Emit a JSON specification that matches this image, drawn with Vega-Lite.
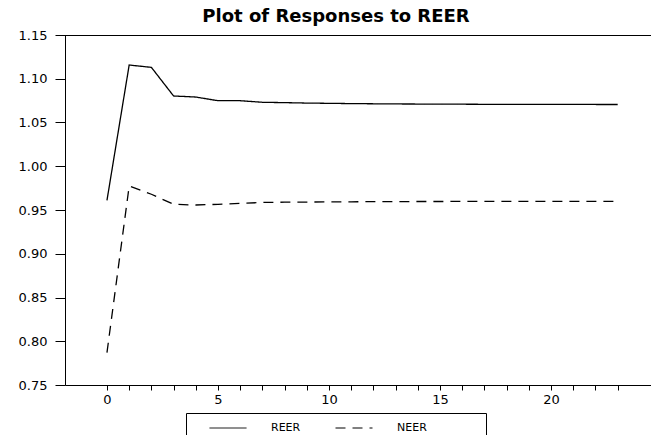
{
  "$schema": "https://vega.github.io/schema/vega-lite/v6.json",
  "width": 586,
  "height": 350,
  "autosize": {"type": "none"},
  "padding": {"left": 65, "top": 35, "right": 0, "bottom": 50},
  "background": "white",
  "config": {
    "view": {"stroke": null},
    "font": "DejaVu Sans",
    "axis": {"domainColor": "black", "tickColor": "black", "labelColor": "black", "grid": false, "labelFont": "DejaVu Sans", "labelFontSize": 13, "domainWidth": 1, "tickWidth": 1}
  },
  "title": {
    "text": "Plot of Responses to REER",
    "anchor": "middle",
    "frame": "group",
    "dx": -22,
    "offset": 3,
    "font": "DejaVu Sans",
    "fontSize": 18,
    "fontWeight": "bold",
    "color": "black"
  },
  "data": {
    "values": [
      {"t": 0, "series": "REER", "value": 0.961},
      {"t": 1, "series": "REER", "value": 1.1157},
      {"t": 2, "series": "REER", "value": 1.113},
      {"t": 3, "series": "REER", "value": 1.0803},
      {"t": 4, "series": "REER", "value": 1.0791},
      {"t": 5, "series": "REER", "value": 1.0749},
      {"t": 6, "series": "REER", "value": 1.0749},
      {"t": 7, "series": "REER", "value": 1.0731},
      {"t": 8, "series": "REER", "value": 1.0727},
      {"t": 9, "series": "REER", "value": 1.0722},
      {"t": 10, "series": "REER", "value": 1.0719},
      {"t": 11, "series": "REER", "value": 1.0716},
      {"t": 12, "series": "REER", "value": 1.0714},
      {"t": 13, "series": "REER", "value": 1.0712},
      {"t": 14, "series": "REER", "value": 1.0711},
      {"t": 15, "series": "REER", "value": 1.071},
      {"t": 16, "series": "REER", "value": 1.0709},
      {"t": 17, "series": "REER", "value": 1.0708},
      {"t": 18, "series": "REER", "value": 1.0708},
      {"t": 19, "series": "REER", "value": 1.0707},
      {"t": 20, "series": "REER", "value": 1.0707},
      {"t": 21, "series": "REER", "value": 1.0707},
      {"t": 22, "series": "REER", "value": 1.0706},
      {"t": 23, "series": "REER", "value": 1.0706},
      {"t": 0, "series": "NEER", "value": 0.787},
      {"t": 1, "series": "NEER", "value": 0.9774},
      {"t": 2, "series": "NEER", "value": 0.968},
      {"t": 3, "series": "NEER", "value": 0.9565},
      {"t": 4, "series": "NEER", "value": 0.9557},
      {"t": 5, "series": "NEER", "value": 0.9565},
      {"t": 6, "series": "NEER", "value": 0.9576},
      {"t": 7, "series": "NEER", "value": 0.9586},
      {"t": 8, "series": "NEER", "value": 0.9589},
      {"t": 9, "series": "NEER", "value": 0.9591},
      {"t": 10, "series": "NEER", "value": 0.9593},
      {"t": 11, "series": "NEER", "value": 0.9594},
      {"t": 12, "series": "NEER", "value": 0.9595},
      {"t": 13, "series": "NEER", "value": 0.9596},
      {"t": 14, "series": "NEER", "value": 0.9597},
      {"t": 15, "series": "NEER", "value": 0.9597},
      {"t": 16, "series": "NEER", "value": 0.9598},
      {"t": 17, "series": "NEER", "value": 0.9598},
      {"t": 18, "series": "NEER", "value": 0.9598},
      {"t": 19, "series": "NEER", "value": 0.9599},
      {"t": 20, "series": "NEER", "value": 0.9599},
      {"t": 21, "series": "NEER", "value": 0.9599},
      {"t": 22, "series": "NEER", "value": 0.9599},
      {"t": 23, "series": "NEER", "value": 0.9599}
    ]
  },
  "layer": [
    {
      "mark": {"type": "rule", "color": "black", "strokeWidth": 1, "yOffset": 0.5},
      "encoding": {"y": {"datum": 1.15, "type": "quantitative"}}
    },
    {
      "mark": {"type": "line", "strokeWidth": 1.3},
      "encoding": {
        "x": {
          "field": "t",
          "type": "quantitative",
          "scale": {"domain": [-1.89, 24.5], "nice": false, "zero": false},
          "axis": {
            "title": null,
            "values": [0,1,2,3,4,5,6,7,8,9,10,11,12,13,14,15,16,17,18,19,20,21,22,23],
            "labelExpr": "datum.value % 5 === 0 ? datum.label : ''",
            "tickSize": 5,
            "labelPadding": 3,
            "labelFlush": false,
            "labelOverlap": false
          }
        },
        "y": {
          "field": "value",
          "type": "quantitative",
          "scale": {"domain": [0.75, 1.15], "nice": false, "zero": false},
          "axis": {
            "title": null,
            "values": [0.75, 0.8, 0.85, 0.9, 0.95, 1.0, 1.05, 1.1, 1.15],
            "format": ".2f",
            "tickSize": 10,
            "labelPadding": 8,
            "labelFlush": false,
            "labelOverlap": false
          }
        },
        "color": {
          "field": "series",
          "type": "nominal",
          "scale": {"domain": ["REER", "NEER"], "range": ["black", "black"]},
          "legend": {
            "title": null,
            "orient": "none",
            "legendX": 121,
            "legendY": 378,
            "direction": "horizontal",
            "symbolType": "stroke",
            "symbolSize": 1369,
            "symbolStrokeWidth": 1,
            "symbolOffset": 13,
            "strokeColor": "black",
            "padding": 10,
            "clipHeight": 10,
            "labelFont": "DejaVu Sans",
            "labelFontSize": 11,
            "labelColor": "black",
            "labelOffset": 24,
            "columnPadding": 21,
            "labelExpr": "datum.label == 'NEER' ? 'NEER\u2800\u2800\u2800\u2800\u2800\u2800' : datum.label"
          }
        },
        "strokeDash": {
          "field": "series",
          "type": "nominal",
          "scale": {"domain": ["REER", "NEER"], "range": [[1, 0], [10, 7]]},
          "legend": null
        }
      }
    }
  ]
}
